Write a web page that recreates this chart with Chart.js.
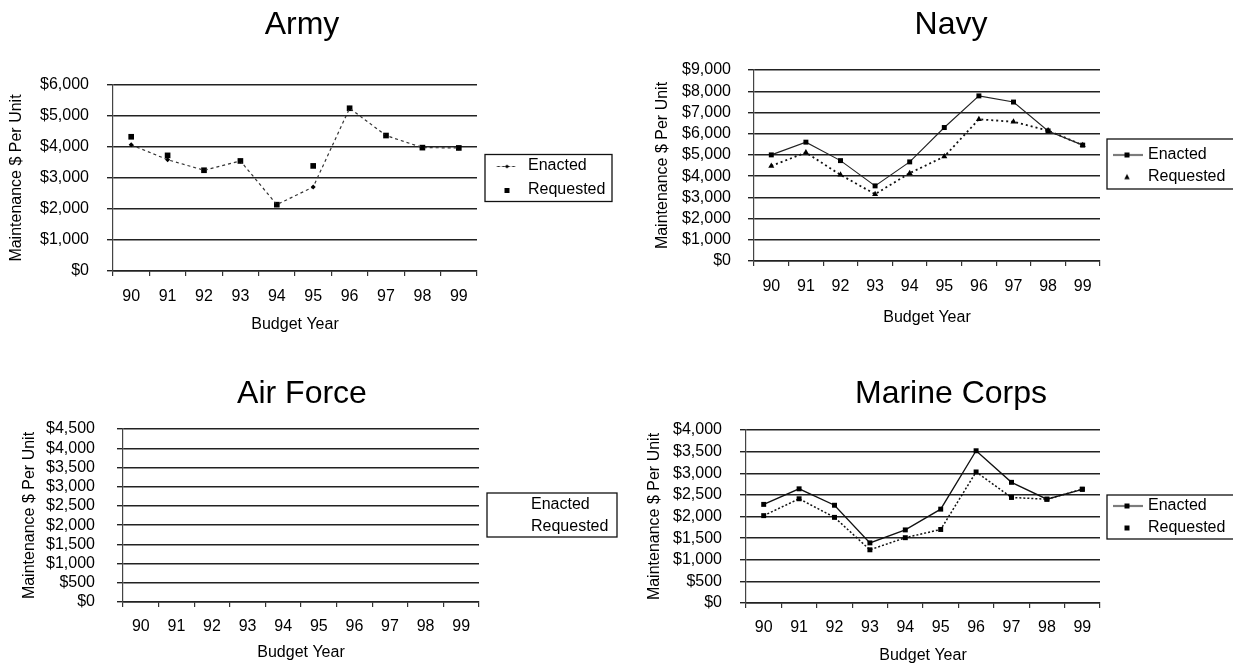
<!DOCTYPE html>
<html><head><meta charset="utf-8">
<script src="https://cdn.jsdelivr.net/npm/chart.js@4.4.1/dist/chart.umd.min.js"></script>
<style>
html,body{margin:0;padding:0;background:#fff;overflow:hidden;width:1233px;height:665px;}
canvas{position:absolute;}
</style></head><body>
<canvas id="army"></canvas>
<canvas id="navy"></canvas>
<canvas id="af"></canvas>
<canvas id="mc"></canvas>
<script>
const years = ['90','91','92','93','94','95','96','97','98','99'];
const armyEnacted   = [4070, 3590, 3250, 3550, 2140, 2710, 5250, 4370, 3980, 3970];
const armyRequested = [4330, 3730, 3250, 3550, 2140, 3390, 5250, 4370, 3980, 3970];
const navyEnacted   = [5000, 5600, 4730, 3540, 4670, 6290, 7780, 7490, 6130, 5460];
const navyRequested = [4480, 5110, 4060, 3150, 4140, 4920, 6680, 6560, 6150, 5460];
const afEnacted     = [null, null, null, null, null, null, null, null, null, null];
const afRequested   = [null, null, null, null, null, null, null, null, null, null];
const mcEnacted     = [2280, 2640, 2260, 1390, 1690, 2170, 3520, 2790, 2400, 2630];
const mcRequested   = [2020, 2410, 1980, 1230, 1510, 1700, 3030, 2440, 2400, 2630];
const yAxisMax  = {army: 6000, navy: 9000, af: 4500, mc: 4000};
const yAxisStep = {army: 1000, navy: 1000, af: 500, mc: 500};
const titles = {army: 'Army', navy: 'Navy', af: 'Air Force', mc: 'Marine Corps'};
const seriesNames = ['Enacted', 'Requested'];
const xTitle = 'Budget Year';
const yTitle = 'Maintenance $ Per Unit';

const FONT = "'Liberation Sans', Arial, Helvetica, sans-serif";
Chart.defaults.font.family = FONT;
Chart.defaults.color = '#000';

function drawMarker(g, kind, x, y, s) {
  g.fillStyle = '#000';
  g.beginPath();
  if (kind === 'rect') { g.rect(x - s/2, y - s/2, s, s); }
  else if (kind === 'tri') { g.moveTo(x, y - s*0.6); g.lineTo(x + s*0.55, y + s*0.45); g.lineTo(x - s*0.55, y + s*0.45); g.closePath(); }
  else if (kind === 'diamond') { g.moveTo(x, y - s/2); g.lineTo(x + s/2, y); g.lineTo(x, y + s/2); g.lineTo(x - s/2, y); g.closePath(); }
  g.fill();
}
function makeSym(w, line, marker) {
  const c = document.createElement('canvas');
  c.width = w; c.height = 16;
  const g = c.getContext('2d');
  if (line) {
    g.strokeStyle = line.color; g.lineWidth = line.width; g.setLineDash(line.dash || []);
    g.beginPath(); g.moveTo(line.x0, 8.5); g.lineTo(line.x1, 8.5); g.stroke(); g.setLineDash([]);
  }
  if (marker) drawMarker(g, marker.kind, marker.x, 8.5, marker.s);
  return c;
}

const legendBoxPlugin = {
  id: 'legendBox',
  beforeLayout(chart, args, opts) {
    const lg = chart.legend;
    if (lg && !lg.__patched) {
      const f = lg.fit;
      lg.fit = function () { f.call(this); this.width = opts.width; };
      lg.__patched = true;
    }
  },
  afterDraw(chart, args, opts) {
    const lg = chart.legend, ca = chart.chartArea, ctx = chart.ctx;
    const cy = (ca.top + ca.bottom) / 2 + (opts.dy || 0);
    ctx.save();
    ctx.strokeStyle = '#111'; ctx.lineWidth = 1.3;
    ctx.strokeRect(lg.left + opts.x0, cy - opts.h / 2, opts.x1 - opts.x0, opts.h);
    ctx.restore();
  }
};

function makeChart(id, cfg) {
  const cv = document.getElementById(id);
  cv.width = cfg.W; cv.height = cfg.H;
  cv.style.left = cfg.L + 'px'; cv.style.top = cfg.T + 'px';
  cv.style.width = cfg.W + 'px'; cv.style.height = cfg.H + 'px';
  const syms = cfg.syms;
  return new Chart(cv, {
    type: 'line',
    data: { labels: years, datasets: cfg.datasets },
    options: {
      responsive: false, animation: false, devicePixelRatio: 1,
      layout: { padding: 0 },
      elements: { line: { tension: 0 } },
      plugins: {
        title: { display: true, text: titles[id], color: '#000',
          font: { size: 32, family: FONT, weight: 'normal' },
          padding: { top: cfg.tPt, bottom: cfg.tPb } },
        legend: { display: true, position: 'right', align: 'center', fullSize: false,
          labels: { usePointStyle: true, pointStyleWidth: cfg.bw, padding: cfg.lp,
            font: { size: 16, family: FONT }, color: '#000',
            generateLabels: (chart) => chart.data.datasets.map((ds, i) => ({
              text: ds.label, pointStyle: syms[i], fillStyle: 'rgba(0,0,0,0)',
              strokeStyle: 'rgba(0,0,0,0)', lineWidth: 0, hidden: false,
              datasetIndex: i, fontColor: '#000' })) } },
        tooltip: { enabled: false },
        legendBox: cfg.box
      },
      scales: {
        x: { offset: true,
          grid: { offset: true, drawOnChartArea: false, drawTicks: true, tickLength: 5, color: '#333', lineWidth: 1.2 },
          border: { display: true, color: '#222', width: 1.4 },
          ticks: { font: { size: 16, family: FONT }, color: '#000', padding: cfg.xtp, maxRotation: 0, autoSkip: false },
          title: { display: true, text: xTitle, color: '#000', font: { size: 16, family: FONT }, padding: { top: 0, bottom: cfg.xtb } },
          afterFit: (s) => { s.height = cfg.xH; } },
        y: { min: 0, max: yAxisMax[id],
          ticks: { stepSize: yAxisStep[id], autoSkip: false, font: { size: 16, family: FONT }, color: '#000', padding: cfg.ytp,
            callback: (v) => '$' + Number(v).toLocaleString('en-US') },
          grid: { color: '#222', lineWidth: 1.4, tickLength: 6 },
          border: { display: true, color: '#444', width: 1.2 },
          title: { display: true, text: yTitle, color: '#000', font: { size: 16, family: FONT }, padding: { top: cfg.ytt, bottom: 0 } },
          afterFit: (s) => { s.width = cfg.yW; } }
      }
    },
    plugins: [legendBoxPlugin]
  });
}

// Army
makeChart('army', {
  L: -14, T: 0, W: 632, H: 340, yW: 127, ytt: 21.4, ytp: 18, tPt: 6.3, tPb: 40.3,
  xH: 69, xtp: 11.4, xtb: 5.4, bw: 35, lp: 8,
  box: { width: 141, x0: 8, x1: 135, h: 47, dy: 0 },
  syms: [
    makeSym(40, { color: '#333', width: 1, dash: [3, 2], x0: 14.5, x1: 34.5 }, { kind: 'diamond', x: 24.5, s: 4 }),
    makeSym(40, null, { kind: 'rect', x: 24.5, s: 5 })
  ],
  datasets: [
    { label: seriesNames[0], data: armyEnacted, borderColor: '#333', borderWidth: 1.2, borderDash: [3, 3],
      pointStyle: 'rectRot', pointRadius: 2.5, pointBackgroundColor: '#000', pointBorderColor: '#000', pointBorderWidth: 0 },
    { label: seriesNames[1], data: armyRequested, showLine: false, borderColor: '#000',
      pointStyle: 'rect', pointRadius: 4, pointBackgroundColor: '#000', pointBorderColor: '#000', pointBorderWidth: 0 }
  ]
});

// Navy
makeChart('navy', {
  L: 640, T: 0, W: 622, H: 340, yW: 114, ytt: 13.4, ytp: 17, tPt: 5.8, tPb: 25.8,
  xH: 79, xtp: 11.4, xtb: 12.4, bw: 34, lp: 6,
  box: { width: 162, x0: 7, x1: 145, h: 50, dy: -1.5 },
  syms: [
    makeSym(44, { color: '#111', width: 1.2, x0: 12, x1: 42 }, { kind: 'rect', x: 26, s: 5 }),
    makeSym(44, null, { kind: 'tri', x: 26, s: 5 })
  ],
  datasets: [
    { label: seriesNames[0], data: navyEnacted, borderColor: '#222', borderWidth: 1.1,
      pointStyle: 'rect', pointRadius: 3.5, pointBackgroundColor: '#000', pointBorderColor: '#000', pointBorderWidth: 0 },
    { label: seriesNames[1], data: navyRequested, borderColor: '#111', borderWidth: 1.8, borderDash: [2, 3],
      pointStyle: 'triangle', pointRadius: 3.5, pointBackgroundColor: '#000', pointBorderColor: '#000', pointBorderWidth: 0 }
  ]
});

// Air Force
makeChart('af', {
  L: -14, T: 332, W: 632, H: 333, yW: 137, ytt: 34.4, ytp: 22, tPt: 42.8, tPb: 15.8,
  xH: 63, xtp: 10.4, xtb: 2.4, bw: 38, lp: 6,
  box: { width: 139, x0: 8, x1: 138, h: 44, dy: -0.5 },
  syms: [ makeSym(2, null, null), makeSym(2, null, null) ],
  datasets: [
    { label: seriesNames[0], data: afEnacted, borderColor: '#222', borderWidth: 1, pointRadius: 0 },
    { label: seriesNames[1], data: afRequested, borderColor: '#222', borderWidth: 1, pointRadius: 0 }
  ]
});

// Marine Corps
makeChart('mc', {
  L: 640, T: 332, W: 622, H: 333, yW: 106, ytt: 5.4, ytp: 18, tPt: 42.8, tPb: 16.8,
  xH: 62, xtp: 10.4, xtb: 0, bw: 34, lp: 6,
  box: { width: 162, x0: 7, x1: 145, h: 44, dy: 0.5 },
  syms: [
    makeSym(44, { color: '#111', width: 1.2, x0: 12, x1: 42 }, { kind: 'rect', x: 26, s: 5 }),
    makeSym(44, null, { kind: 'rect', x: 26, s: 5 })
  ],
  datasets: [
    { label: seriesNames[0], data: mcEnacted, borderColor: '#111', borderWidth: 1.3,
      pointStyle: 'rect', pointRadius: 3.5, pointBackgroundColor: '#000', pointBorderColor: '#000', pointBorderWidth: 0 },
    { label: seriesNames[1], data: mcRequested, borderColor: '#111', borderWidth: 1.5, borderDash: [2, 2],
      pointStyle: 'rect', pointRadius: 3.5, pointBackgroundColor: '#000', pointBorderColor: '#000', pointBorderWidth: 0 }
  ]
});
</script>
</body></html>
